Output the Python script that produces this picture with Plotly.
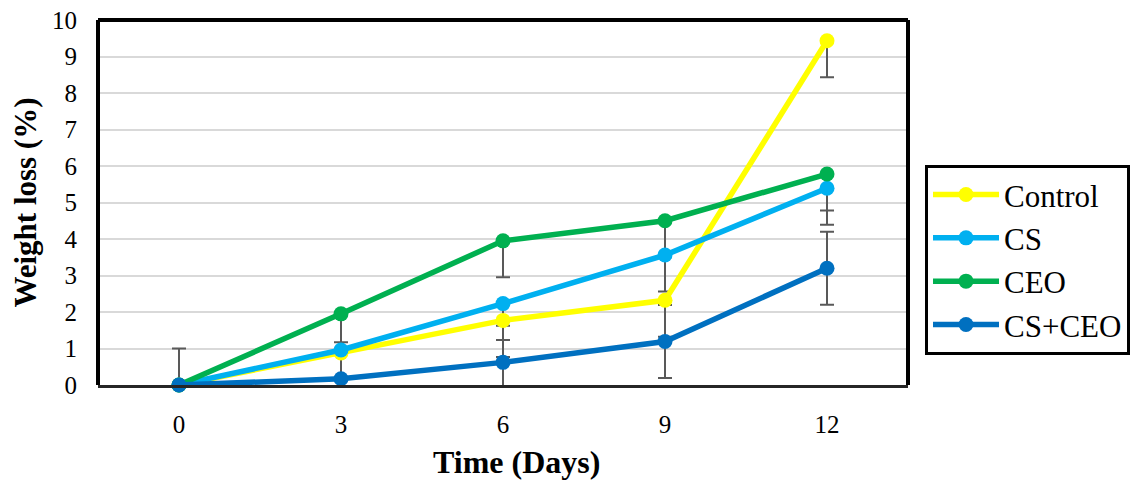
import plotly.graph_objects as go

days = ["0", "3", "6", "9", "12"]
series_names = ["Control", "CS", "CEO", "CS+CEO"]
control = [0.0, 0.88, 1.77, 2.32, 9.43]
cs = [0.0, 0.96, 2.23, 3.56, 5.39]
ceo = [0.0, 1.95, 3.95, 4.50, 5.78]
cs_ceo = [0.0, 0.17, 0.62, 1.19, 3.20]
err_control = [1.0, 1.0, 1.0, 1.0, 1.0]
err_cs = [1.0, 1.0, 1.0, 1.0, 1.0]
err_ceo = [1.0, 1.0, 1.0, 1.0, 1.0]
err_cs_ceo = [1.0, 1.0, 1.0, 1.0, 1.0]
colors = ["#FFFF00", "#00B0F0", "#00B050", "#0070C0"]

values = [control, cs, ceo, cs_ceo]
errors = [err_control, err_cs, err_ceo, err_cs_ceo]
symmetric = [False, False, False, True]

FONT = "Liberation Serif"
fig = go.Figure()

# error bars (clipped to the plot area)
for name, vals, errs, sym in zip(series_names, values, errors, symmetric):
    if sym:
        ey = dict(type="data", array=errs, symmetric=True, color="#595959", thickness=2, width=7)
    else:
        ey = dict(type="data", array=[0] * len(errs), arrayminus=errs, symmetric=False,
                  color="#595959", thickness=2, width=7)
    fig.add_trace(go.Scatter(x=days, y=vals, mode="markers", error_y=ey,
                             marker=dict(size=1, color="rgba(0,0,0,0)"),
                             showlegend=False, hoverinfo="skip", cliponaxis=True))

for name, vals, col in zip(series_names, values, colors):
    fig.add_trace(go.Scatter(x=days, y=vals, mode="lines+markers", name=name,
                             line=dict(color=col, width=5.5),
                             marker=dict(color=col, size=15),
                             cliponaxis=False))

fig.update_layout(
    width=1145, height=488,
    margin=dict(l=98, r=237, t=20, b=103, autoexpand=False),
    paper_bgcolor="white", plot_bgcolor="white",
    font=dict(family=FONT, color="black", size=25),
    legend=dict(x=1.021, y=0.603, xanchor="left", yanchor="top",
                bordercolor="black", borderwidth=3, bgcolor="white",
                font=dict(family=FONT, size=31, color="black"),
                tracegroupgap=0, itemwidth=66),
    xaxis=dict(type="category", range=[-0.5, 4.5], showgrid=False, zeroline=False,
               showline=True, linecolor="#262626", linewidth=3, automargin=False,
               ticks="", ticklabelstandoff=15,
               tickfont=dict(family=FONT, size=25)),
    yaxis=dict(range=[0, 10], dtick=1, showgrid=True, gridcolor="#D9D9D9", gridwidth=2,
               zeroline=False, showline=False, ticks="", ticklabelstandoff=20, automargin=False,
               tickfont=dict(family=FONT, size=25)),
    annotations=[
        dict(text="<b>Time (Days)</b>", xref="paper", yref="paper", x=0.517, y=-0.212,
             xanchor="center", yanchor="middle", showarrow=False,
             font=dict(family=FONT, size=32, color="black")),
        dict(text="<b>Weight loss (%)</b>", xref="paper", yref="paper", x=-0.09, y=0.5,
             xanchor="center", yanchor="middle", showarrow=False, textangle=-90,
             font=dict(family=FONT, size=31, color="black")),
    ],
)

# thick frame on left, top, right
for x0, y0, x1, y1 in [(0, 0, 0, 1), (0, 1, 1, 1), (1, 0, 1, 1)]:
    fig.add_shape(type="line", xref="paper", yref="paper", x0=x0, y0=y0, x1=x1, y1=y1,
                  line=dict(color="black", width=4), layer="above")

fig.write_html("out.html")
